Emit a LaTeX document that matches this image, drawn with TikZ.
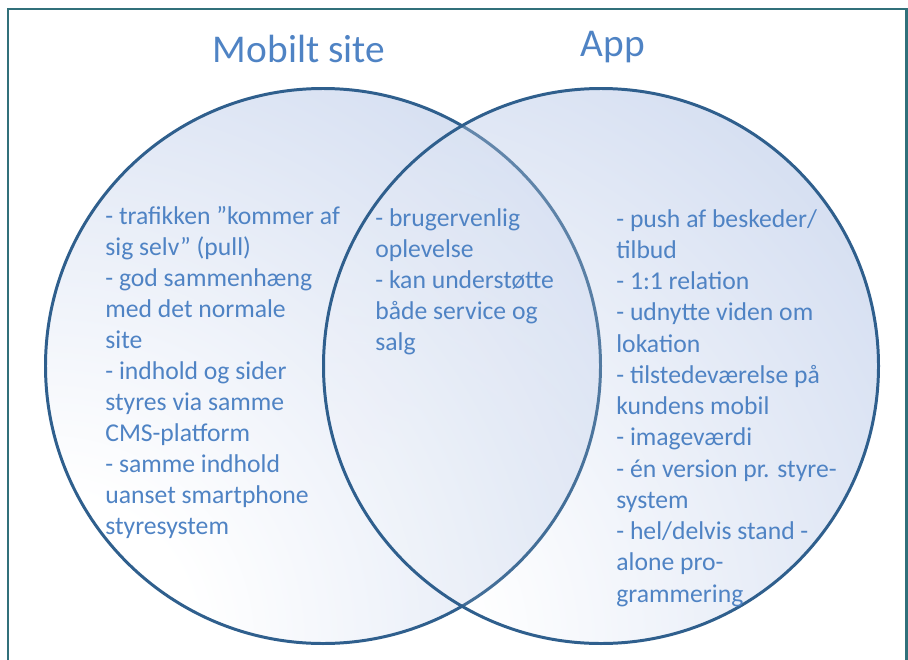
\documentclass[tikz,border=0pt]{standalone}
\usepackage{fontspec}
\setmainfont{Carlito}
\usetikzlibrary{calc,fadings}

\definecolor{vennblue}{RGB}{185,201,232}
\definecolor{vennline}{RGB}{47,95,141}
\definecolor{venntext}{RGB}{79,131,196}
\definecolor{framecol}{RGB}{49,112,122}

% rings around the lower left corner of each circle
\pgfdeclareradialshading{vennshade}{\pgfpointorigin}{%
  color(0bp)=(white); color(5bp)=(white);
  color(35bp)=(vennblue); color(100bp)=(vennblue)}
% same rings, used as opacity for the second circle
\pgfdeclareradialshading{vennfadeshade}{\pgfpointorigin}{%
  color(0bp)=(black!90); color(9bp)=(black!90);
  color(36bp)=(black!30); color(100bp)=(black!30)}
\pgfdeclarefading{vennfade}{\pgfuseshading{vennfadeshade}}

\tikzset{
  ring/.style={draw=vennline, line width=1.7pt},
  heading/.style={text=venntext, font=\fontsize{22.4}{27}\selectfont, anchor=base},
  item/.style={text=venntext, font=\fontsize{14.6}{17.6}\selectfont,
    anchor=base west, inner sep=0pt},
}

\begin{document}
\begin{tikzpicture}
  \useasboundingbox (0,0) rectangle (18.16,13.18);
  \draw[framecol, line width=1.7pt] (0.16,-0.1) -- (0.16,13.0) -- (18.12,13.0) -- (18.12,-0.1);

  % the two circles
  \coordinate (ms) at (6.46,5.86);
  \coordinate (app) at (12.02,5.86);
  \begin{scope}
    \clip (app) circle (5.55);
    \shade[shading=vennshade] ($(app)+(-5.55,-5.55)$) circle (15);
  \end{scope}
  \begin{scope}
    \clip (ms) circle (5.55);
    \shade[shading=vennshade] ($(ms)+(-5.55,-5.55)$) circle (15);
  \end{scope}
  \draw[ring] (ms) circle (5.55);
  % app lies half see-through over the overlap
  \begin{scope}
    \clip (app) circle (5.55);
    \shade[shading=vennshade, path fading=vennfade] ($(app)+(-5.55,-5.55)$) circle (15);
  \end{scope}
  \draw[ring] (app) circle (5.55);

  \node[heading] (mstitle) at (5.98,11.92) {Mobilt site};
  \node[heading] (apptitle) at (12.26,12.06) {App};

  % mobile site only
  \foreach \txt [count=\i from 0] in {
    - trafikken ”kommer af, sig selv” (pull), - god sammenhæng,
    med det normale, site, - indhold og sider, styres via samme,
    CMS-platform, - samme indhold, uanset smartphone, styresystem}
    \node[item] (ms\i) at (2.10,8.70-0.62*\i) {\txt};

  % both
  \foreach \txt [count=\i from 0] in {
    - brugervenlig, oplevelse, - kan understøtte, både service og, salg}
    \node[item] (both\i) at (7.50,8.66-0.62*\i) {\txt};

  % app only
  \foreach \txt [count=\i from 0] in {
    - push af beskeder/, tilbud, - 1:1 relation, - udnytte viden om,
    lokation, - tilstedeværelse på, kundens mobil, - imageværdi,
    - én version pr. styre-, system, - hel/delvis stand -, alone pro-,
    grammering}
    \node[item] (app\i) at (12.32,8.64-0.625*\i) {\txt};
\end{tikzpicture}
\end{document}
